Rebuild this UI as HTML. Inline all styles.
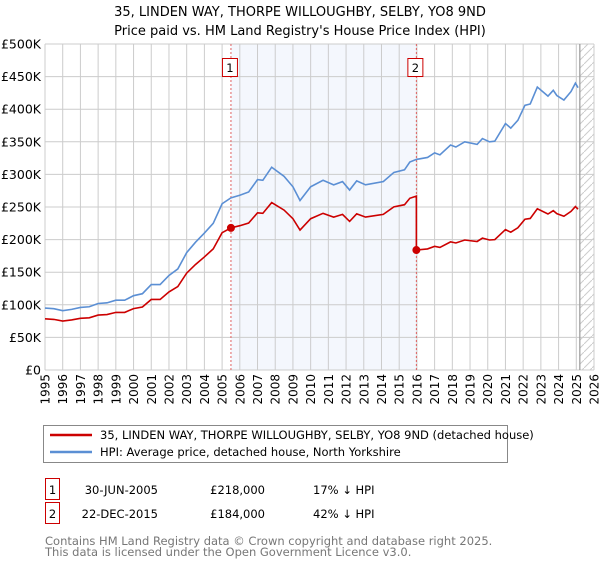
<!DOCTYPE html>
<html><head><meta charset="utf-8"><style>
body{margin:0;background:#fff;font-family:"DejaVu Sans","Liberation Sans",sans-serif;}
</style></head><body>
<svg id="c" width="600" height="560" style="font-family:'DejaVu Sans','Liberation Sans',sans-serif">
<text x="300" y="16" text-anchor="middle" font-size="13">35, LINDEN WAY, THORPE WILLOUGHBY, SELBY, YO8 9ND</text>
<text x="300" y="35" text-anchor="middle" font-size="13">Price paid vs. HM Land Registry's House Price Index (HPI)</text>
<g id="plot"></g>
<g>
<rect x="43.5" y="425.5" width="464" height="37" fill="#fff" stroke="#888"/>
<line x1="50" y1="435" x2="92" y2="435" stroke="#cc0000" stroke-width="2.5"/>
<text x="100" y="439" font-size="11.5">35, LINDEN WAY, THORPE WILLOUGHBY, SELBY, YO8 9ND (detached house)</text>
<line x1="50" y1="452" x2="92" y2="452" stroke="#5b8fd4" stroke-width="2.5"/>
<text x="100" y="456" font-size="11.5">HPI: Average price, detached house, North Yorkshire</text>
</g>
<g font-size="11.5">
<rect x="45.5" y="478.5" width="14" height="21" fill="#fff" stroke="#cc0000"/>
<text x="52.5" y="494" text-anchor="middle">1</text>
<text x="158" y="494" text-anchor="end">30-JUN-2005</text>
<text x="265" y="494" text-anchor="end">£218,000</text>
<text x="313" y="494">17% ↓ HPI</text>
<rect x="45.5" y="502.5" width="14" height="21" fill="#fff" stroke="#cc0000"/>
<text x="52.5" y="518" text-anchor="middle">2</text>
<text x="158" y="518" text-anchor="end">22-DEC-2015</text>
<text x="265" y="518" text-anchor="end">£184,000</text>
<text x="313" y="518">42% ↓ HPI</text>
</g>
<text x="45" y="545" font-size="11.5" fill="#777">Contains HM Land Registry data © Crown copyright and database right 2025.</text>
<text x="45" y="556" font-size="11.5" fill="#777">This data is licensed under the Open Government Licence v3.0.</text>
</svg>
<script>
const hpiYears=[1995,1995.5,1996,1996.5,1997,1997.5,1998,1998.5,1999,1999.5,2000,2000.5,2001,2001.5,2002,2002.5,2003,2003.5,2004,2004.5,2005,2005.5,2006,2006.5,2007,2007.3,2007.8,2008.5,2009,2009.4,2010,2010.7,2011.3,2011.8,2012.2,2012.6,2013.1,2014.1,2014.7,2015.3,2015.6,2015.97,2016.6,2017,2017.3,2017.9,2018.2,2018.7,2019.4,2019.7,2020.1,2020.4,2021,2021.3,2021.7,2022.1,2022.4,2022.8,2023.4,2023.7,2023.9,2024.3,2024.7,2024.95,2025.1];
const hpiValues=[95,94,91,93,96,97,102,103,107,107,114,117,131,131,145,155,180,196,210,225,255,264,268,273,292,291,311,297,281,260,281,291,284,289,276,290,284,289,303,307,319,323,326,333,330,345,342,350,346,355,350,351,378,371,383,406,408,434,420,429,421,414,427,440,433];
const saleYears=[2005.5,2015.97];
const salePrices=[218,184];
const saleLabels=["1","2"];
const yTicks=[0,50,100,150,200,250,300,350,400,450,500];
const yTickLabels=["£0","£50K","£100K","£150K","£200K","£250K","£300K","£350K","£400K","£450K","£500K"];
const xStart=1995,xEnd=2026;
const L=45,R=594,T=44,B=370,ns="http://www.w3.org/2000/svg";
const X=y=>L+(y-xStart)/(xEnd-xStart)*(R-L);
const Y=v=>B-v/500*(B-T);
const g=document.getElementById('plot');
function mk(t,a,p){const e=document.createElementNS(ns,t);for(const k in a)e.setAttribute(k,a[k]);(p||g).appendChild(e);return e;}
function hpiAt(t){for(let i=0;i<hpiYears.length-1;i++){if(t<=hpiYears[i+1]){const f=(t-hpiYears[i])/(hpiYears[i+1]-hpiYears[i]);return hpiValues[i]+f*(hpiValues[i+1]-hpiValues[i]);}}return hpiValues[hpiValues.length-1];}
let s=mk('rect',{x:X(saleYears[0]),y:T,width:X(saleYears[1])-X(saleYears[0]),height:B-T,fill:'#f4f7fd'});

const defs=mk('defs',{});const pat=mk('pattern',{id:'h',width:8,height:8,patternUnits:'userSpaceOnUse'},defs);
mk('line',{x1:0,y1:8,x2:8,y2:0,stroke:'#ccc','stroke-width':1},pat);
let hz=mk('rect',{x:X(2025.2),y:T,width:R-X(2025.2),height:B-T,fill:'url(#h)'});

for(let yr=xStart;yr<=xEnd;yr++){
 let l=mk('line',{x1:X(yr),y1:T,x2:X(yr),y2:B,stroke:'#cccccc','stroke-width':1});
 
 let t=mk('text',{x:0,y:0,'font-size':12,'text-anchor':'end',transform:`translate(${X(yr)+4.5},${B+4}) rotate(-90)`});
 t.textContent=yr;
}
yTicks.forEach((v,i)=>{
 let l=mk('line',{x1:L,y1:Y(v),x2:R,y2:Y(v),stroke:'#cccccc','stroke-width':1});
 
 let t=mk('text',{x:L-4,y:Y(v)+4.5,'font-size':12.5,'text-anchor':'end'});
 t.textContent=yTickLabels[i];
});
let vl=mk('line',{x1:X(2025.2),y1:T,x2:X(2025.2),y2:B,stroke:'#999','stroke-width':1.2});

saleYears.forEach((sy,i)=>{
 let l=mk('line',{x1:X(sy),y1:T,x2:X(sy),y2:B,stroke:'#e06060','stroke-width':1,'stroke-dasharray':'2,2'});
 
 let r=mk('rect',{x:X(sy)-8.5,y:58.5,width:15,height:18,fill:'#fff',stroke:'#cc0000'});
 
 let t=mk('text',{x:X(sy)-1,y:72,'font-size':11.5,'text-anchor':'middle'});
 t.textContent=saleLabels[i];
});
let hp=mk('polyline',{points:hpiYears.map((y,i)=>X(y)+','+Y(hpiValues[i])).join(' '),fill:'none',stroke:'#5b8fd4','stroke-width':1.6});

let pts=[];
const r0=salePrices[0]/hpiAt(saleYears[0]),r1=salePrices[1]/hpiAt(saleYears[1]);
hpiYears.forEach((y,i)=>{if(y<saleYears[1])pts.push(X(y)+','+Y(hpiValues[i]*r0));});
pts.push(X(saleYears[1])+','+Y(hpiAt(saleYears[1])*r0));
pts.push(X(saleYears[1])+','+Y(salePrices[1]));
hpiYears.forEach((y,i)=>{if(y>saleYears[1])pts.push(X(y)+','+Y(hpiValues[i]*r1));});
let pl=mk('polyline',{points:pts.join(' '),fill:'none',stroke:'#cc0000','stroke-width':1.6});

saleYears.forEach((sy,i)=>{
 let c=mk('circle',{cx:X(sy),cy:Y(salePrices[i]),r:4,fill:'#cc0000'});
 
});
</script>
</body></html>
